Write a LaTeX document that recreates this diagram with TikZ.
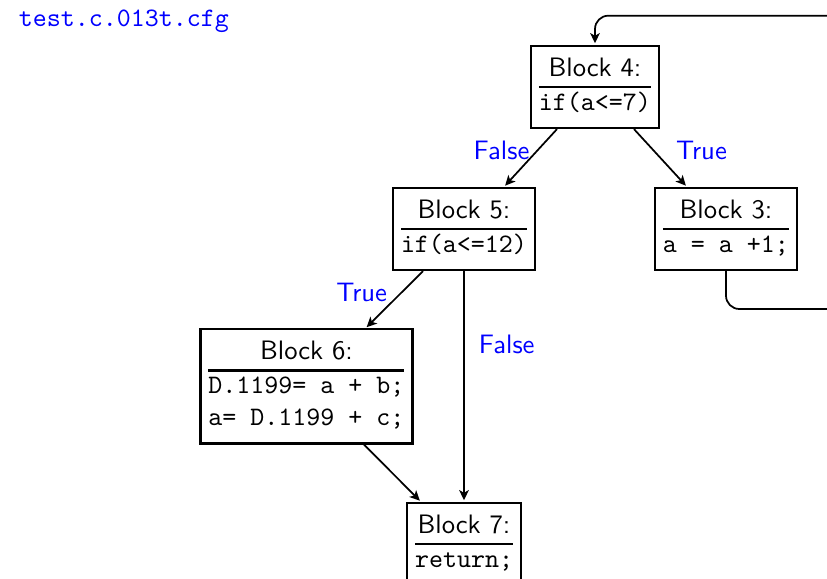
\documentclass[tikz,border=0pt]{standalone}
\usepackage{fontspec}
\usetikzlibrary{arrows.meta,calc}
\setlength{\arrayrulewidth}{0.8pt}
\newcommand{\blk}[2]{\begin{tabular}{@{}c@{}}\sffamily #1\\\hline #2\end{tabular}}
\begin{document}
\begin{tikzpicture}[x=0.375pt,y=-0.375pt,
  blockbox/.style={draw,line width=0.8pt,inner sep=3pt,fill=white},
  flow/.style={line width=0.65pt,-{Stealth[length=3.8pt,width=3.6pt,inset=1pt]},shorten >=0.6pt},
  lbl/.style={text=blue,font=\sffamily,anchor=base,inner sep=0pt},
]
\useasboundingbox (0,0) rectangle (827,579);
\clip (0,0) rectangle (827,579);

% file name
\node[lbl,font=\ttfamily] (title) at (124,26.5) {test.c.013t.cfg};

% basic blocks
\node[blockbox] (b4) at (595,87)    {\blk{Block 4:}{\texttt{if(a<=7)}}};
\node[blockbox] (b5) at (464,229)   {\blk{Block 5:}{\texttt{if(a<=12)}}};
\node[blockbox] (b3) at (726,229)   {\blk{Block 3:}{\texttt{a = a +1;}}};
\node[blockbox] (b6) at (306.5,386.5) {\begin{tabular}{@{}c@{}}\sffamily Block 6:\\\hline
  \texttt{D.1199= a + b;}\\\texttt{a= D.1199 + c;}\end{tabular}};
\node[blockbox] (b7) at (464,544) {\blk{Block 7:}{\texttt{return;}}};

% control flow
\draw[flow] ($(b4.south)+(-38,0)$) -- ($(b5.north)+(40,0)$);
\draw[flow] ($(b4.south)+(39,0)$) -- ($(b3.north)+(-39,0)$);
\draw[flow] ($(b5.south)+(-41,0)$) -- ($(b6.north)+(59,0)$);
\draw[flow] (b5.south) -- (b7.north);
\draw[flow] ($(b6.south)+(57.5,0)$) -- ($(b7.north)+(-43,0)$);

% loop back edge from block 3 to block 4
\coordinate (loopR) at (900,309);
\coordinate (loopT) at (900,15.7);
\draw[flow,rounded corners=5] (b3.south) |- (loopR) -- (loopT) -| (b4.north);

% branch labels
\node[lbl] (f45) at (501.5,160) {False};
\node[lbl] (t43) at (701.5,160) {True};
\node[lbl] (t56) at (361.7,301.7) {True};
\node[lbl] (f57) at (506.7,354) {False};
\end{tikzpicture}
\end{document}
